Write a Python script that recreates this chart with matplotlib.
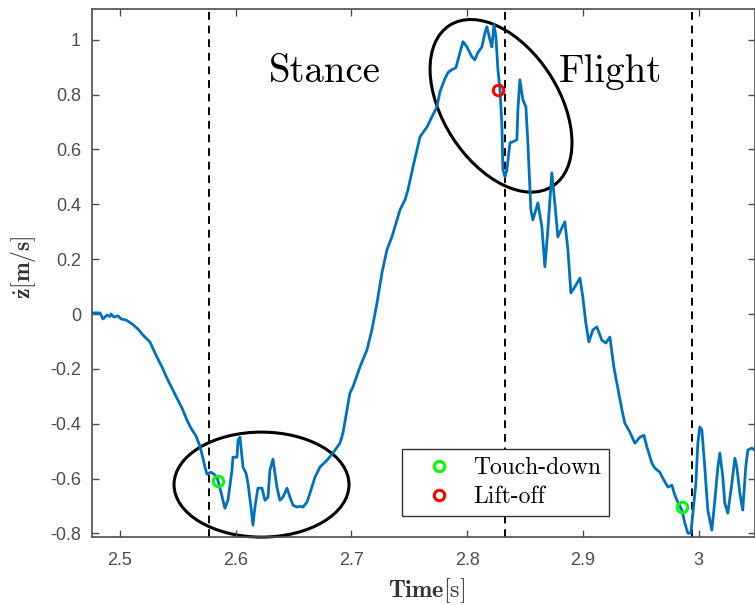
import numpy as np
import matplotlib
matplotlib.use('Agg')
import matplotlib.pyplot as plt
from matplotlib.patches import Ellipse
import matplotlib.transforms as mtransforms

# vertical velocity trace
time = [2.4758, 2.4827, 2.4853, 2.4888, 2.4914, 2.4922, 2.4948, 2.4983, 2.5009, 2.5052,
        2.5104, 2.5156, 2.5199, 2.5259, 2.5311, 2.5363, 2.5406, 2.5449, 2.5492, 2.5536,
        2.5579, 2.5613, 2.5657, 2.5691, 2.5717, 2.5734, 2.5752, 2.5786, 2.5812, 2.5838,
        2.5864, 2.5907, 2.5933, 2.5968, 2.5976, 2.6011, 2.6020, 2.6037, 2.6063, 2.6089,
        2.6106, 2.6132, 2.6149, 2.6166, 2.6192, 2.6227, 2.6253, 2.6279, 2.6296, 2.6322,
        2.6339, 2.6356, 2.6382, 2.6408, 2.6443, 2.6469, 2.6495, 2.6529, 2.6555, 2.6581,
        2.6616, 2.6642, 2.6685, 2.6728, 2.6789, 2.6840, 2.6901, 2.6927, 2.6961, 2.6987,
        2.7013, 2.7074, 2.7134, 2.7177, 2.7221, 2.7264, 2.7307, 2.7350, 2.7420, 2.7463,
        2.7489, 2.7532, 2.7593, 2.7653, 2.7696, 2.7739, 2.7765, 2.7808, 2.7834, 2.7868,
        2.7903, 2.7938, 2.7964, 2.7998, 2.8041, 2.8067, 2.8093, 2.8128, 2.8154, 2.8171,
        2.8197, 2.8214, 2.8232, 2.8249, 2.8266, 2.8284, 2.8301, 2.8309, 2.8327, 2.8344,
        2.8370, 2.8396, 2.8430, 2.8439, 2.8456, 2.8482, 2.8508, 2.8525, 2.8551, 2.8568,
        2.8594, 2.8612, 2.8646, 2.8672, 2.8698, 2.8732, 2.8758, 2.8784, 2.8819, 2.8845,
        2.8871, 2.8897, 2.8931, 2.8975, 2.9000, 2.9026, 2.9052, 2.9087, 2.9121, 2.9164,
        2.9199, 2.9234, 2.9268, 2.9294, 2.9338, 2.9363, 2.9407, 2.9450, 2.9493, 2.9528,
        2.9554, 2.9597, 2.9623, 2.9666, 2.9692, 2.9735, 2.9770, 2.9787, 2.9813, 2.9856,
        2.9882, 2.9908, 2.9934, 2.9951, 2.9977, 2.9994, 3.0011, 3.0029, 3.0054, 3.0080,
        3.0115, 3.0141, 3.0167, 3.0184, 3.0210, 3.0227, 3.0253, 3.0288, 3.0314, 3.0331,
        3.0357, 3.0382, 3.0408, 3.0426, 3.0460, 3.0486]
zdot = [0.004, 0.004, -0.018, -0.004, -0.009, 0.000, -0.011, -0.007, -0.018, -0.022,
        -0.036, -0.055, -0.077, -0.102, -0.150, -0.193, -0.234, -0.270, -0.307, -0.343,
        -0.387, -0.416, -0.445, -0.482, -0.526, -0.558, -0.584, -0.577, -0.584, -0.595,
        -0.635, -0.708, -0.679, -0.569, -0.522, -0.522, -0.460, -0.449, -0.558, -0.580,
        -0.617, -0.704, -0.770, -0.704, -0.635, -0.635, -0.679, -0.668, -0.569, -0.529,
        -0.580, -0.631, -0.679, -0.668, -0.635, -0.668, -0.697, -0.704, -0.701, -0.704,
        -0.686, -0.653, -0.595, -0.558, -0.533, -0.507, -0.471, -0.434, -0.350, -0.288,
        -0.266, -0.193, -0.131, -0.058, 0.040, 0.150, 0.234, 0.281, 0.380, 0.416,
        0.453, 0.536, 0.646, 0.682, 0.719, 0.755, 0.810, 0.858, 0.880, 0.891,
        0.898, 0.953, 0.993, 0.974, 0.938, 0.927, 0.953, 0.974, 1.026, 1.047,
        1.000, 0.974, 1.055, 1.011, 0.891, 0.818, 0.682, 0.526, 0.500, 0.526,
        0.624, 0.628, 0.635, 0.745, 0.854, 0.781, 0.755, 0.624, 0.380, 0.343,
        0.380, 0.405, 0.318, 0.172, 0.307, 0.515, 0.405, 0.281, 0.314, 0.336,
        0.234, 0.077, 0.099, 0.131, 0.062, -0.033, -0.102, -0.058, -0.047, -0.095,
        -0.106, -0.084, -0.193, -0.252, -0.350, -0.398, -0.431, -0.471, -0.449, -0.442,
        -0.485, -0.544, -0.562, -0.577, -0.599, -0.631, -0.624, -0.650, -0.679, -0.715,
        -0.763, -0.799, -0.799, -0.726, -0.617, -0.471, -0.412, -0.423, -0.558, -0.715,
        -0.788, -0.679, -0.558, -0.507, -0.595, -0.690, -0.726, -0.617, -0.526, -0.558,
        -0.653, -0.715, -0.558, -0.496, -0.489, -0.496]

phase_lines = [2.5770, 2.8325, 2.9946]
touchdown_t = [2.5847, 2.9855]
touchdown_z = [-0.609, -0.703]
liftoff_t = [2.8267]
liftoff_z = [0.818]

plt.rcParams['axes.unicode_minus'] = False
plt.rcParams['mathtext.fontset'] = 'cm'

fig = plt.figure(figsize=(7.55, 6.05), dpi=100)
ax = fig.add_axes([92/755, 68/605, 663/755, 528/605])

ax.plot(time, zdot, color='#0072BD', lw=2.0, solid_joinstyle='round',
        solid_capstyle='round', zorder=2)
for t in phase_lines:
    ax.axvline(t, color='k', ls=(0, (4, 3)), lw=1.4, zorder=1)

ax.plot(touchdown_t, touchdown_z, 'o', ms=7.5, mfc='none', mec='#00FF00', mew=2.2,
        label='Touch-down', zorder=4)
ax.plot(liftoff_t, liftoff_z, 'o', ms=7.5, mfc='none', mec='#FF0000', mew=2.2,
        label='Lift-off', zorder=4)

ax.set_xlim(2.4758, 3.0488)
ax.set_ylim(-0.813, 1.112)
ax.set_xticks([2.5, 2.6, 2.7, 2.8, 2.9, 3.0])
ax.set_xticklabels(['2.5', '2.6', '2.7', '2.8', '2.9', '3'])
ax.set_yticks([-0.8, -0.6, -0.4, -0.2, 0, 0.2, 0.4, 0.6, 0.8, 1])
ax.set_yticklabels(['-0.8', '-0.6', '-0.4', '-0.2', '0', '0.2', '0.4', '0.6', '0.8', '1'])

gray = '#4d4d4d'
for s in ax.spines.values():
    s.set_color(gray)
    s.set_linewidth(1.2)
ax.tick_params(direction='in', length=5, width=1, color=gray, labelcolor=gray,
               top=True, right=True, labelsize=13)
ax.tick_params(axis='x', pad=11)
ax.tick_params(axis='y', pad=8)
for lab in ax.get_xticklabels() + ax.get_yticklabels():
    lab.set_family('Liberation Sans')

ax.set_xlabel(r'$\mathbf{Time}[\mathrm{s}]$', fontsize=17.5, color='#333333')
ax.set_ylabel(r'$\dot{\mathbf{z}}[\mathbf{m/s}]$', fontsize=17, color='#333333')
ax.xaxis.set_label_coords(0.505, -0.075)
ax.yaxis.set_label_coords(-0.082, 0.51)

# phase annotations
ax.text(2.6772, 0.847, 'Stance', family='cmr10', fontsize=28, ha='center', va='baseline')
ax.text(2.9235, 0.847, 'Flight', family='cmr10', fontsize=28, ha='center', va='baseline')

# highlight ellipses, sized in inches around a data-space centre
e1 = Ellipse((0, 0), 1.75, 1.05, angle=0, fill=False, ec='k', lw=2.2, clip_on=False,
             transform=fig.dpi_scale_trans + mtransforms.ScaledTranslation(2.6223, -0.622, ax.transData))
e2 = Ellipse((0, 0), 1.91, 1.16, angle=-57.4, fill=False, ec='k', lw=2.2, clip_on=False,
             transform=fig.dpi_scale_trans + mtransforms.ScaledTranslation(2.8293, 0.759, ax.transData))
ax.add_patch(e1)
ax.add_patch(e2)

leg = ax.legend(loc='upper left', bbox_to_anchor=(0.4676, 0.1667), prop={'family': 'cmr10', 'size': 17},
                frameon=True, fancybox=False, edgecolor='#333333', framealpha=1,
                borderpad=0.33, labelspacing=0.3, handlelength=2.45, handletextpad=0.25,
                borderaxespad=0)
leg.get_frame().set_linewidth(1.0)

fig.savefig('out.png', dpi=100)
